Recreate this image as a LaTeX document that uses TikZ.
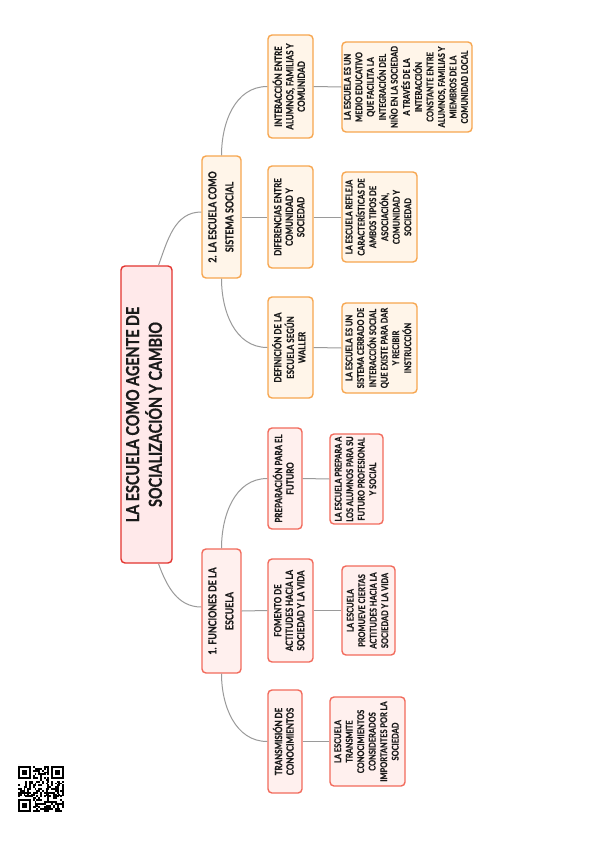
\documentclass[tikz,border=0pt]{standalone}
\usepackage{fontspec}
\setmainfont{Lato}[FakeStretch=0.8, BoldFont={Lato Bold}, BoldFeatures={FakeStretch=0.8, FakeBold=0.6}]
\usepackage{graphicx}

\definecolor{rootline}{HTML}{E3342F}
\definecolor{rootfill}{HTML}{FFE9EA}
\definecolor{orline}{HTML}{F7A64F}
\definecolor{orfill}{HTML}{FFF5E9}
\definecolor{rdline}{HTML}{F26A5B}
\definecolor{rdfill}{HTML}{FFF0EE}
\definecolor{linkgray}{HTML}{9A9A9A}
\definecolor{ink}{HTML}{1A1A1A}

% text turned a quarter turn, read from bottom to top
\newcommand{\vtxt}[1]{\rotatebox{90}{\begin{tabular}{@{}c@{}}#1\end{tabular}}}

\tikzset{
  box/.style={draw, rounded corners=4pt, line width=1.4pt, inner sep=0pt, text=ink},
  rootbox/.style={box, draw=rootline, fill=rootfill, font=\fontsize{18}{20}\selectfont\bfseries},
  brbox/.style={box, font=\fontsize{11}{17}\selectfont\bfseries},
  leafbox/.style={box, font=\fontsize{9.9}{11.5}\selectfont\bfseries},
  notebox/.style={box, font=\fontsize{9.3}{11.5}\selectfont\bfseries},
  orange/.style={draw=orline, fill=orfill},
  salmon/.style={draw=rdline, fill=rdfill},
  link/.style={draw=linkgray, line width=1pt}
}

\begin{document}
\begin{tikzpicture}[x=1pt,y=-1pt]
  \fill[white] (0,0) rectangle (599,848);
  \useasboundingbox (0,0) rectangle (599,848);

  % root
  \node[rootbox, minimum width=51pt, minimum height=297pt] (root) at (146.5,414.5)
    {\vtxt{LA ESCUELA COMO AGENTE DE\\SOCIALIZACIÓN Y CAMBIO}};

  % branch 2
  \node[brbox, orange, minimum width=39pt, minimum height=122pt] (sys) at (221.5,217)
    {\vtxt{2. LA ESCUELA COMO\\SISTEMA SOCIAL}};
  \node[leafbox, orange, minimum width=45pt, minimum height=103pt] (inter) at (290.5,86.5)
    {\vtxt{INTERACCIÓN ENTRE\\ALUMNOS, FAMILIAS Y\\COMUNIDAD}};
  \node[notebox, orange, minimum width=130pt, minimum height=90pt] (interN) at (407,87)
    {\vtxt{LA ESCUELA ES UN\\MEDIO EDUCATIVO\\QUE FACILITA LA\\INTEGRACIÓN DEL\\NIÑO EN LA SOCIEDAD\\A TRAVÉS DE LA\\INTERACCIÓN\\CONSTANTE ENTRE\\ALUMNOS, FAMILIAS Y\\MIEMBROS DE LA\\COMUNIDAD LOCAL}};
  \node[leafbox, orange, minimum width=45pt, minimum height=102pt] (dif) at (290.5,217)
    {\vtxt{DIFERENCIAS ENTRE\\COMUNIDAD Y\\SOCIEDAD}};
  \node[notebox, orange, minimum width=75pt, minimum height=90pt] (difN) at (379.5,217)
    {\vtxt{LA ESCUELA REFLEJA\\CARACTERÍSTICAS DE\\AMBOS TIPOS DE\\ASOCIACIÓN,\\COMUNIDAD Y\\SOCIEDAD}};
  \node[leafbox, orange, minimum width=45pt, minimum height=101pt] (def) at (290.5,347.5)
    {\vtxt{DEFINICIÓN DE LA\\ESCUELA SEGÚN\\WALLER}};
  \node[notebox, orange, minimum width=75pt, minimum height=90pt] (defN) at (379.5,348)
    {\vtxt{LA ESCUELA ES UN\\SISTEMA CERRADO DE\\INTERACCIÓN SOCIAL\\QUE EXISTE PARA DAR\\Y RECIBIR\\INSTRUCCIÓN}};

  % branch 1
  \node[brbox, salmon, minimum width=39pt, minimum height=124pt] (fun) at (221.5,611)
    {\vtxt{1. FUNCIONES DE LA\\ESCUELA}};
  \node[leafbox, salmon, minimum width=34pt, minimum height=101pt] (prep) at (285,478.5)
    {\vtxt{PREPARACIÓN PARA EL\\FUTURO}};
  \node[notebox, salmon, minimum width=53pt, minimum height=90pt] (prepN) at (356.5,479)
    {\vtxt{LA ESCUELA PREPARA A\\LOS ALUMNOS PARA SU\\FUTURO PROFESIONAL\\Y SOCIAL}};
  \node[leafbox, salmon, minimum width=45pt, minimum height=103pt] (fom) at (290.5,610.5)
    {\vtxt{FOMENTO DE\\ACTITUDES HACIA LA\\SOCIEDAD Y LA VIDA}};
  \node[notebox, salmon, minimum width=53pt, minimum height=89pt] (fomN) at (368.5,610.5)
    {\vtxt{LA ESCUELA\\PROMUEVE CIERTAS\\ACTITUDES HACIA LA\\SOCIEDAD Y LA VIDA}};
  \node[leafbox, salmon, minimum width=34pt, minimum height=103pt] (trans) at (285,741.5)
    {\vtxt{TRANSMISIÓN DE\\CONOCIMIENTOS}};
  \node[notebox, salmon, minimum width=75pt, minimum height=89pt] (transN) at (367.5,741.5)
    {\vtxt{LA ESCUELA\\TRANSMITE\\CONOCIMIENTOS\\CONSIDERADOS\\IMPORTANTES POR LA\\SOCIEDAD}};

  % connectors
  \draw[link] ([xshift=12pt]root.north) to[out=70,in=180] ([yshift=5pt]sys.west);
  \draw[link] ([xshift=12pt]root.south) to[out=-70,in=180] ([yshift=4pt]fun.west);
  \draw[link] (sys.north) to[out=90,in=180] (inter.west);
  \draw[link] (sys.east) -- (dif.west);
  \draw[link] (sys.south) to[out=-90,in=180] (def.west);
  \draw[link] (fun.north) to[out=90,in=180] (prep.west);
  \draw[link] (fun.east) -- (fom.west);
  \draw[link] (fun.south) to[out=-90,in=180] (trans.west);
  \foreach \a/\b in {inter/interN,dif/difN,def/defN,prep/prepN,fom/fomN,trans/transN}
    \draw[link] (\a.east) -- (\b.west);

  % qr code
  \pgfmathsetseed{7}
  \foreach \i in {0,...,24}{
    \foreach \j in {0,...,24}{
      \pgfmathtruncatemacro\qrbit{rnd<0.5}
      \pgfmathtruncatemacro\qrfree{!((\i<8 && \j<8) || (\i>16 && \j<8) || (\i<8 && \j>16))}
      \ifnum\qrbit\qrfree=11 \fill[black] ({18+\i*1.84},{766+\j*1.84}) rectangle ++(1.9,1.9);\fi
    }
  }
  \foreach \fx/\fy in {0/0,18/0,0/18}{
    \fill[black] ({18+\fx*1.84},{766+\fy*1.84}) rectangle ++(7*1.84,7*1.84);
    \fill[white] ({18+(\fx+1)*1.84},{766+(\fy+1)*1.84}) rectangle ++(5*1.84,5*1.84);
    \fill[black] ({18+(\fx+2)*1.84},{766+(\fy+2)*1.84}) rectangle ++(3*1.84,3*1.84);
  }
\end{tikzpicture}
\end{document}
